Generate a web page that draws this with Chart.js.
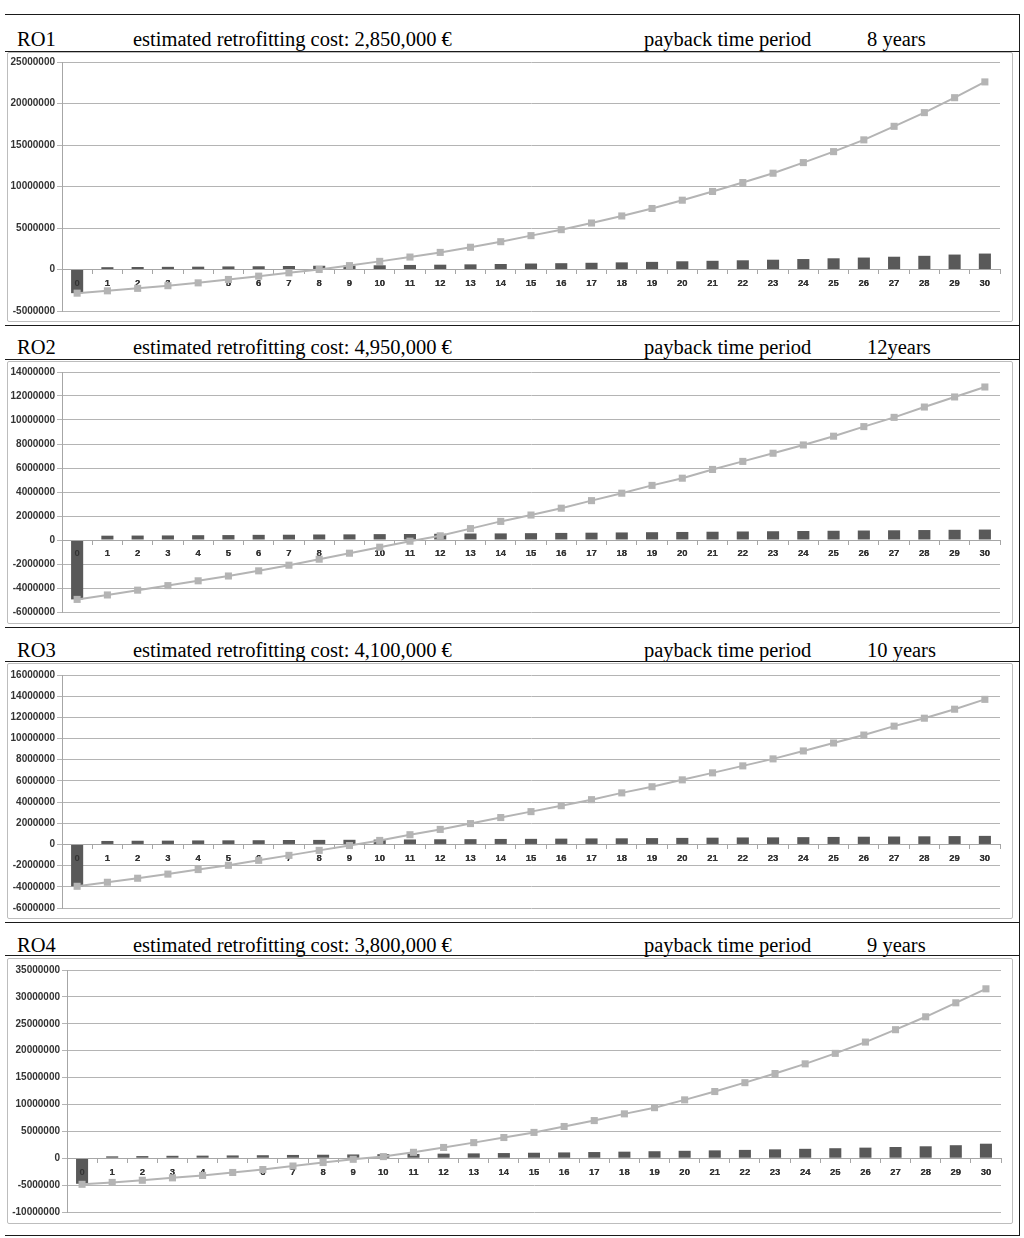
<!DOCTYPE html>
<html>
<head>
<meta charset="utf-8">
<script src="https://cdn.jsdelivr.net/npm/chart.js@4/dist/chart.umd.min.js"></script>
<style>
  html, body { margin: 0; padding: 0; background: #fff; }
  body { width: 1024px; height: 1238px; position: relative; overflow: hidden; }
  .hline { position: absolute; left: 5px; width: 1015px; height: 0; border-top: 1.5px solid #1a1a1a; }
  .vline { position: absolute; left: 1019px; top: 14px; width: 0; height: 1222px; border-left: 1.5px solid #1a1a1a; }
  .txt { position: absolute; font-family: 'Liberation Serif', 'Times New Roman', serif; font-size: 20.5px; line-height: 20.5px; color: #000; white-space: nowrap; }
  .box { position: absolute; left: 7px; width: 1004px; border: 1px solid #bdbdbd; border-radius: 2px; }
  .chart { position: absolute; left: 7px; }
</style>
</head>
<body>
<div class="vline"></div>

<script>
// years on the x axis
const years = ['0','1','2','3','4','5','6','7','8','9','10','11','12','13','14','15','16','17','18','19','20','21','22','23','24','25','26','27','28','29','30'];

// RO1
const ro1Cash = [-2850000, 280000, 300000, 320000, 340000, 370000, 390000, 420000, 450000, 480000, 510000, 550000, 580000, 620000, 660000, 720000, 760000, 810000, 860000, 920000, 990000, 1050000, 1110000, 1180000, 1260000, 1350000, 1440000, 1540000, 1650000, 1800000, 1920000];
const ro1Cumulative = [-2850000, -2570000, -2270000, -1950000, -1610000, -1200000, -800000, -400000, 0, 470000, 980000, 1500000, 2060000, 2680000, 3350000, 4080000, 4800000, 5600000, 6450000, 7350000, 8350000, 9400000, 10480000, 11600000, 12880000, 14200000, 15620000, 17250000, 18900000, 20700000, 22600000];

// RO2
const ro2Cash = [-4950000, 360000, 370000, 380000, 400000, 410000, 430000, 440000, 460000, 470000, 490000, 500000, 520000, 540000, 550000, 570000, 590000, 610000, 630000, 650000, 670000, 690000, 710000, 730000, 750000, 770000, 790000, 810000, 830000, 850000, 870000];
const ro2Cumulative = [-4950000, -4580000, -4180000, -3800000, -3400000, -3000000, -2570000, -2100000, -1600000, -1100000, -600000, -100000, 350000, 950000, 1550000, 2080000, 2650000, 3280000, 3900000, 4550000, 5150000, 5880000, 6550000, 7230000, 7920000, 8650000, 9450000, 10220000, 11080000, 11920000, 12750000];

// RO3
const ro3Cash = [-3950000, 330000, 350000, 360000, 380000, 390000, 400000, 420000, 430000, 440000, 460000, 470000, 490000, 500000, 520000, 530000, 550000, 570000, 580000, 600000, 620000, 640000, 660000, 670000, 690000, 710000, 730000, 750000, 770000, 790000, 810000];
const ro3Cumulative = [-3950000, -3570000, -3190000, -2800000, -2370000, -1970000, -1500000, -1030000, -560000, -100000, 380000, 920000, 1420000, 1970000, 2540000, 3100000, 3660000, 4230000, 4870000, 5450000, 6100000, 6760000, 7420000, 8080000, 8830000, 9580000, 10330000, 11170000, 11920000, 12770000, 13700000];

// RO4
const ro4Cash = [-4750000, 350000, 400000, 450000, 480000, 520000, 560000, 610000, 650000, 700000, 750000, 800000, 850000, 900000, 960000, 1020000, 1080000, 1150000, 1220000, 1300000, 1380000, 1460000, 1550000, 1650000, 1750000, 1860000, 1970000, 2090000, 2220000, 2420000, 2700000];
const ro4Cumulative = [-4850000, -4500000, -4100000, -3650000, -3200000, -2650000, -2100000, -1450000, -800000, -200000, 300000, 1100000, 2000000, 2900000, 3850000, 4800000, 5900000, 7000000, 8250000, 9400000, 10850000, 12400000, 14050000, 15750000, 17550000, 19500000, 21600000, 23900000, 26300000, 28900000, 31500000];

// header texts
const panelNames = ['RO1', 'RO2', 'RO3', 'RO4'];
const panelCosts = ['estimated retrofitting cost: 2,850,000 €', 'estimated retrofitting cost: 4,950,000 €', 'estimated retrofitting cost: 4,100,000 €', 'estimated retrofitting cost: 3,800,000 €'];
const panelPayback = ['8 years', '12years', '10 years', '9 years'];

// y axis ranges [min, max, step]
const yRanges = [[-5000000, 25000000, 5000000], [-6000000, 14000000, 2000000], [-6000000, 16000000, 2000000], [-10000000, 35000000, 5000000]];

// page geometry
const layout = [
  {base: 46,  line: 51,  boxTop: 52,  boxBottom: 322,  plotTop: 62,  plotBottom: 311,  plotLeft: 62, plotRight: 1000, bottomLine: 325},
  {base: 354, line: 359, boxTop: 361, boxBottom: 624,  plotTop: 372, plotBottom: 612,  plotLeft: 62, plotRight: 1000, bottomLine: 627},
  {base: 657, line: 661, boxTop: 663, boxBottom: 919,  plotTop: 675, plotBottom: 908,  plotLeft: 62, plotRight: 1000, bottomLine: 922},
  {base: 952, line: 955, boxTop: 958, boxBottom: 1224, plotTop: 970, plotBottom: 1212, plotLeft: 67, plotRight: 1001, bottomLine: 1235}
];

const cashSets = [ro1Cash, ro2Cash, ro3Cash, ro4Cash];
const cumSets = [ro1Cumulative, ro2Cumulative, ro3Cumulative, ro4Cumulative];

// x labels sit on top of the bars but under the line, like the original
const labelsOverBars = {
  id: 'labelsOverBars',
  afterDatasetDraw(chart, args) {
    if (args.meta.type === 'bar') {
      chart.scales.x.draw(chart.chartArea);
    }
  }
};

function addDiv(cls, css, text) {
  const d = document.createElement('div');
  d.className = cls;
  Object.assign(d.style, css);
  if (text) d.textContent = text;
  document.body.appendChild(d);
  return d;
}

addDiv('hline', {top: '14px'});

for (let i = 0; i < 4; i++) {
  const g = layout[i];
  const top = (g.base - 17.2) + 'px';
  addDiv('txt', {left: '17px', top: top}, panelNames[i]);
  addDiv('txt', {left: '133px', top: top}, panelCosts[i]);
  addDiv('txt', {left: '644px', top: top}, 'payback time period');
  addDiv('txt', {left: '867px', top: top}, panelPayback[i]);
  addDiv('hline', {top: g.line + 'px'});
  addDiv('hline', {top: g.bottomLine + 'px'});

  const h = g.boxBottom - g.boxTop;
  addDiv('box', {top: g.boxTop + 'px', height: (h - 2) + 'px'});
  const wrap = addDiv('chart', {top: g.boxTop + 'px', width: '1006px', height: h + 'px'});
  const cv = document.createElement('canvas');
  cv.width = 1006;
  cv.height = h;
  wrap.appendChild(cv);

  const yr = yRanges[i];
  new Chart(cv, {
    type: 'bar',
    data: {
      labels: years,
      datasets: [
        {
          type: 'line',
          data: cumSets[i],
          borderColor: '#b4b4b4',
          backgroundColor: '#b4b4b4',
          borderWidth: 2,
          pointStyle: 'rect',
          pointRadius: 5,
          pointBorderWidth: 0,
          tension: 0,
          order: 0,
        },
        {
          type: 'bar',
          data: cashSets[i],
          backgroundColor: '#595959',
          borderWidth: 0,
          categoryPercentage: 1,
          barPercentage: 0.4,
          order: 1,
        }
      ]
    },
    plugins: [labelsOverBars],
    options: {
      responsive: false,
      animation: false,
      devicePixelRatio: 1,
      layout: {
        padding: {
          top: g.plotTop - g.boxTop,
          bottom: g.boxBottom - g.plotBottom,
          left: 0,
          right: 1013 - g.plotRight,
        }
      },
      plugins: {
        legend: {display: false},
        tooltip: {enabled: false},
      },
      scales: {
        x: {
          position: {y: 0},
          offset: true,
          grid: {
            offset: true,
            drawOnChartArea: false,
            drawTicks: true,
            tickLength: 4,
            color: '#a6a6a6',
          },
          border: {color: '#a6a6a6'},
          ticks: {
            padding: 4,
            maxRotation: 0,
            autoSkip: false,
            color: '#333',
            font: {family: 'Liberation Sans', size: 9.5, weight: 'bold'},
          }
        },
        y: {
          min: yr[0],
          max: yr[1],
          afterFit: function (scale) { scale.width = g.plotLeft - 7; },
          grid: {
            color: '#b4b4b4',
            tickLength: 5,
          },
          border: {color: '#a6a6a6'},
          ticks: {
            stepSize: yr[2],
            padding: 2,
            color: '#333',
            font: {family: 'Liberation Sans', size: 10, weight: 'bold'},
            callback: function (v) { return String(v); },
          }
        }
      }
    }
  });
}
</script>
</body>
</html>
